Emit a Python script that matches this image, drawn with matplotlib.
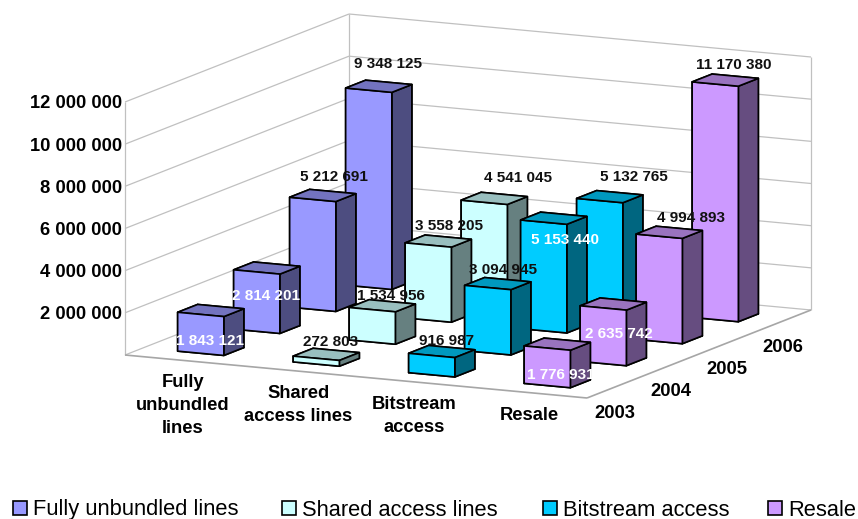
import numpy as np
import matplotlib
matplotlib.use("Agg")
import matplotlib.pyplot as plt
from matplotlib.patches import Patch
from mpl_toolkits.mplot3d import proj3d
from mpl_toolkits.mplot3d.art3d import Line3DCollection

plt.rcParams['font.family'] = ['Liberation Sans', 'DejaVu Sans']

# Data
categories = ["Fully\nunbundled\nlines", "Shared\naccess lines", "Bitstream\naccess", "Resale"]
legend_names = ["Fully unbundled lines", "Shared access lines", "Bitstream access", "Resale"]
years = ["2003", "2004", "2005", "2006"]
fully_unbundled = [1843121, 2814201, 5212691, 9348125]
shared_access = [272803, 1534956, 3558205, 4541045]
bitstream = [916987, 3094945, 5153440, 5132765]
resale = [1776931, 2635742, 4994893, 11170380]
series = [fully_unbundled, shared_access, bitstream, resale]
z_ticks = [2000000, 4000000, 6000000, 8000000, 10000000, 12000000]
z_max = 12000000

# Style
front_colors = ["#9999FF", "#CCFFFF", "#00CCFF", "#CC99FF"]
white_labels = {1843121, 2814201, 5153440, 2635742, 1776931}
# hand-placed label offsets from the bar top, pixels (right, down), as in the source chart
label_dx = [[-1, -1, 11, 9], [4, 9, 11, 24], [5, 5, 11, 24], [4, 6, 22, 8]]
label_dy = [[28, 26, -20, -24], [-14, -12, -17, -22], [-13, -16, 20, -22], [29, 28, -16, -17]]
legend_x = [13, 282, 543, 768]
bar_w = 0.40
bar_d = 0.357

W, H = 858, 519
fig = plt.figure(figsize=(W / 100, H / 100), dpi=100)
# 3d axes are forced square, so make it cover the whole figure
ax = fig.add_axes([0, (H - W) / 2 / H, 1, W / H], projection='3d', computed_zorder=False)
ax.set_axis_off()
ax.apply_aspect()

# Chart uses a parallel projection: x, y, z -> figure pixels (y up)
origin = np.array([125.0, H - 355.0])
x_step = np.array([115.5, -10.75])
y_step = np.array([56.0, 22.0])
z_step = 253.0 / z_max
pix = np.array([
    [x_step[0], y_step[0], 0, origin[0]],
    [x_step[1], y_step[1], z_step, origin[1]],
    [0, 0, 0, 1],
])
to_view = ax.transData.inverted().get_matrix()
view = to_view @ pix
M = np.array([
    view[0],
    view[1],
    [-0.03, 0.1, -1e-8, 0],  # depth, only used to sort the faces of a bar
    [0, 0, 0, 1],
])
ax.get_proj = lambda: M
ax.M = M


def put_text(x, y, z, text, dx=0, dy=0, **kw):
    u, v, _ = proj3d.proj_transform(x, y, z, M)
    ax.annotate(text, xy=(u, v), xytext=(dx, -dy), textcoords='offset pixels',
                ha=kw.pop('ha', 'center'), va=kw.pop('va', 'center'), annotation_clip=False, **kw)


# Walls and gridlines
grid_segs = []
for t in z_ticks:
    grid_segs.append([(0, 0, t), (0, 4, t)])
    grid_segs.append([(0, 4, t), (4, 4, t)])
grid_segs.append([(0, 0, 0), (0, 0, z_max)])
grid_segs.append([(0, 4, 0), (0, 4, z_max)])
grid_segs.append([(4, 4, 0), (4, 4, z_max)])
grid_segs.append([(0, 0, 0), (0, 4, 0)])
grid_segs.append([(0, 4, 0), (4, 4, 0)])
ax.add_collection3d(Line3DCollection(grid_segs, colors="#C0C0C0", linewidths=0.9, zorder=1))
floor_segs = [[(0, 0, 0), (4, 0, 0)], [(4, 0, 0), (4, 4, 0)]]
ax.add_collection3d(Line3DCollection(floor_segs, colors="#A6A6A6", linewidths=1.2, zorder=1))

# Bars, back to front
order = 2
for i, values in enumerate(series):
    base = np.array(matplotlib.colors.to_rgb(front_colors[i]))
    for j in range(len(years) - 1, -1, -1):
        # faces: bottom, top, front, back, left, right
        face_colors = [base, base * 0.75, base, base, base, base * 0.5]
        ax.bar3d(i + (1 - bar_w) / 2, j + (1 - bar_d) / 2, 0, bar_w, bar_d, values[j],
                 color=face_colors, edgecolor="black", linewidth=1.2, shade=False, zorder=order)
        order += 1

# Data labels
for i, values in enumerate(series):
    for j, v in enumerate(values):
        txt = f"{v:,}".replace(",", " ")
        c = "white" if v in white_labels else "#111111"
        put_text(i + 0.5, j + 0.5, v, txt, dx=label_dx[i][j], dy=label_dy[i][j] + 2,
                 color=c, fontsize=11, fontweight='bold', zorder=100)

# Axis labels
for t in z_ticks:
    put_text(0, 0, t, f"{t:,}".replace(",", " "), dx=-3, dy=2, ha='right',
             fontsize=13.2, fontweight='bold', zorder=100)
for i, name in enumerate(categories):
    put_text(i + 0.5, 0, 0, name, dy=14, va='top', linespacing=1.46,
             fontsize=13.2, fontweight='bold', zorder=100)
for j, name in enumerate(years):
    put_text(4, j + 0.5, 0, name, dy=27, fontsize=13.2, fontweight='bold', zorder=100)

# Legend, one per entry since the gaps are uneven
for c, name, lx in zip(front_colors, legend_names, legend_x):
    handle = Patch(facecolor=c, edgecolor="black", linewidth=1.2)
    fig.legend([handle], [name], loc='lower left', bbox_to_anchor=(lx / W, -1.5 / H), frameon=False,
               fontsize=15.75, borderpad=0, borderaxespad=0, handlelength=0.64, handleheight=0.64,
               handletextpad=0.27)

plt.savefig("out.png", dpi=100)
